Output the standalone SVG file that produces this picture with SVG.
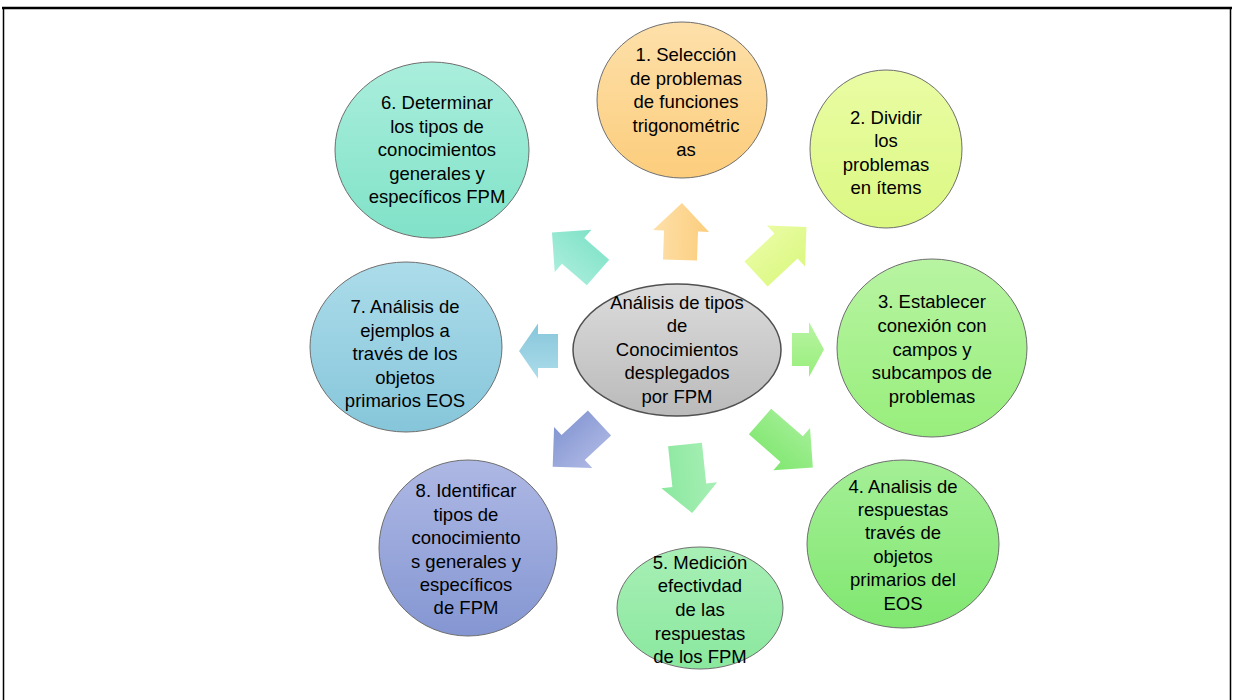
<svg xmlns="http://www.w3.org/2000/svg" width="1234" height="700" viewBox="0 0 1234 700">
<style>
text{font-family:"Liberation Sans",Arial,sans-serif;font-size:18.5px;fill:#000;text-anchor:middle}
.n{stroke:#6e6e6e;stroke-width:1}
.c{stroke:#505050;stroke-width:1.5}
</style>
<defs>
<linearGradient id="g1" x1="0" y1="0" x2="0" y2="1"><stop offset="0" stop-color="#fde0aa"/><stop offset="1" stop-color="#fccd7c"/></linearGradient>
<linearGradient id="g2" x1="0" y1="0" x2="0" y2="1"><stop offset="0" stop-color="#eafca4"/><stop offset="1" stop-color="#dbf882"/></linearGradient>
<linearGradient id="g3" x1="0" y1="0" x2="0" y2="1"><stop offset="0" stop-color="#b8f4a2"/><stop offset="1" stop-color="#98ee7c"/></linearGradient>
<linearGradient id="g4" x1="0" y1="0" x2="0" y2="1"><stop offset="0" stop-color="#a4ef96"/><stop offset="1" stop-color="#80e770"/></linearGradient>
<linearGradient id="g5" x1="0" y1="0" x2="0" y2="1"><stop offset="0" stop-color="#a8efb6"/><stop offset="1" stop-color="#8ae89e"/></linearGradient>
<linearGradient id="g6" x1="0" y1="0" x2="0" y2="1"><stop offset="0" stop-color="#aaeedc"/><stop offset="1" stop-color="#80e2c8"/></linearGradient>
<linearGradient id="g7" x1="0" y1="0" x2="0" y2="1"><stop offset="0" stop-color="#acdcea"/><stop offset="1" stop-color="#86c6da"/></linearGradient>
<linearGradient id="g8" x1="0" y1="0" x2="0" y2="1"><stop offset="0" stop-color="#aeb8e4"/><stop offset="1" stop-color="#8496d2"/></linearGradient>
<linearGradient id="g0" x1="0" y1="0" x2="0" y2="1"><stop offset="0" stop-color="#dcdcdc"/><stop offset="1" stop-color="#bababa"/></linearGradient>
</defs>

<g id="frame" fill="none" stroke="#000">
<line x1="2" y1="8" x2="1232" y2="8" stroke-width="2.5"/>
<line x1="3.5" y1="8" x2="3.5" y2="700" stroke-width="1.5"/>
<line x1="1230.5" y1="8" x2="1230.5" y2="700" stroke-width="1.5"/>
</g>

<g id="connectors">
<polygon fill="url(#g1)" transform="translate(680,260) rotate(-88)" points="0,-17 29,-17 29,-28 57,0 29,28 29,17 0,17"/>
<polygon fill="url(#g2)" transform="translate(756,274) rotate(-43)" points="0,-17 41,-17 41,-28 69,0 41,28 41,17 0,17"/>
<polygon fill="url(#g3)" transform="translate(792,349.5)" points="0,-16.5 17,-16.5 17,-27.5 32,0 17,27.5 17,16.5 0,16.5"/>
<polygon fill="url(#g4)" transform="translate(760,421.5) rotate(41)" points="0,-17 42,-17 42,-28 70,0 42,28 42,17 0,17"/>
<polygon fill="url(#g5)" transform="translate(685,444.5) rotate(84)" points="0,-17 41,-17 41,-28 69,0 41,28 41,17 0,17"/>
<polygon fill="url(#g6)" transform="translate(598,272.5) rotate(-139)" points="0,-17 33,-17 33,-28 61,0 33,28 33,17 0,17"/>
<polygon fill="url(#g7)" transform="translate(558,351) rotate(180)" points="0,-17 20,-17 20,-27.5 39,0 20,27.5 20,17 0,17"/>
<polygon fill="url(#g8)" transform="translate(599.5,423) rotate(137)" points="0,-17 36,-17 36,-28 64,0 36,28 36,17 0,17"/>
</g>

<g id="center">
<ellipse class="c" cx="677" cy="350" rx="104" ry="66" fill="url(#g0)"/>
<text x="677" y="309">Análisis de tipos</text>
<text x="677" y="332">de</text>
<text x="677" y="356">Conocimientos</text>
<text x="677" y="379">desplegados</text>
<text x="677" y="403">por FPM</text>
</g>

<g id="node1">
<ellipse class="n" cx="682" cy="100" rx="85" ry="78" fill="url(#g1)"/>
<text x="686" y="61">1. Selección</text>
<text x="686" y="85">de problemas</text>
<text x="686" y="108">de funciones</text>
<text x="686" y="132">trigonométric</text>
<text x="686" y="156">as</text>
</g>

<g id="node2">
<ellipse class="n" cx="886" cy="149" rx="76" ry="79" fill="url(#g2)"/>
<text x="886" y="124">2. Dividir</text>
<text x="886" y="147">los</text>
<text x="886" y="171">problemas</text>
<text x="886" y="194">en ítems</text>
</g>

<g id="node3">
<ellipse class="n" cx="932" cy="348" rx="95" ry="89" fill="url(#g3)"/>
<text x="932" y="308">3. Establecer</text>
<text x="932" y="332">conexión con</text>
<text x="932" y="356">campos y</text>
<text x="932" y="379">subcampos de</text>
<text x="932" y="403">problemas</text>
</g>

<g id="node4">
<ellipse class="n" cx="903" cy="544" rx="96" ry="84" fill="url(#g4)"/>
<text x="903" y="493">4. Analisis de</text>
<text x="903" y="516">respuestas</text>
<text x="903" y="539">través de</text>
<text x="903" y="563">objetos</text>
<text x="903" y="586">primarios del</text>
<text x="903" y="610">EOS</text>
</g>

<g id="node5">
<ellipse class="n" cx="700" cy="608" rx="83" ry="61" fill="url(#g5)"/>
<text x="700" y="569">5. Medición</text>
<text x="700" y="592">efectivdad</text>
<text x="700" y="616">de las</text>
<text x="700" y="640">respuestas</text>
<text x="700" y="663">de los FPM</text>
</g>

<g id="node6">
<ellipse class="n" cx="432" cy="150" rx="97" ry="88" fill="url(#g6)"/>
<text x="437" y="109">6. Determinar</text>
<text x="437" y="133">los tipos de</text>
<text x="437" y="156">conocimientos</text>
<text x="437" y="180">generales y</text>
<text x="437" y="203">específicos FPM</text>
</g>

<g id="node7">
<ellipse class="n" cx="406" cy="347" rx="96" ry="85" fill="url(#g7)"/>
<text x="405" y="313">7. Análisis de</text>
<text x="405" y="337">ejemplos a</text>
<text x="405" y="360">través de los</text>
<text x="405" y="384">objetos</text>
<text x="405" y="407">primarios EOS</text>
</g>

<g id="node8">
<ellipse class="n" cx="468" cy="548" rx="89" ry="88" fill="url(#g8)"/>
<text x="466" y="497">8. Identificar</text>
<text x="466" y="521">tipos de</text>
<text x="466" y="544">conocimiento</text>
<text x="466" y="568">s generales y</text>
<text x="466" y="591">específicos</text>
<text x="466" y="614">de FPM</text>
</g>
</svg>
